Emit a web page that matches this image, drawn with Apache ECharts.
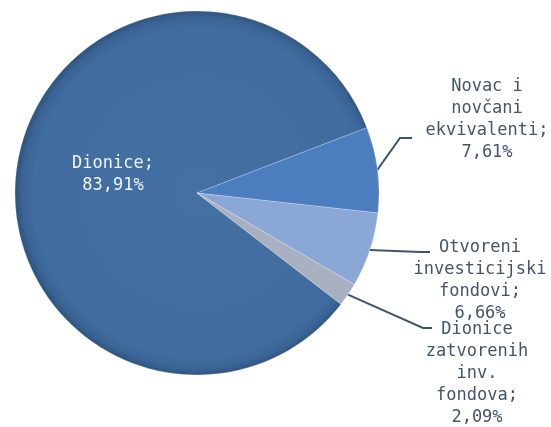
<!DOCTYPE html>
<html>
<head>
<meta charset="utf-8">
<script src="https://cdn.jsdelivr.net/npm/echarts@6/dist/echarts.min.js"></script>
<style>
  html, body { margin: 0; padding: 0; background: #fff; }
  #chart { width: 551px; height: 427px; }
</style>
</head>
<body>
<div id="chart"></div>
<script>
// portfolio structure, share in %
var categories = [
  "Dionice",
  "Novac i\nnovčani\nekvivalenti",
  "Otvoreni\ninvesticijski\nfondovi",
  "Dionice\nzatvorenih\ninv.\nfondova"
];
var shares = [83.91, 7.61, 6.66, 2.09];

var colors = ["#3f6a9c", "#4c7ebf", "#8ba7d5", "#a8b0c1"];

var chart = echarts.init(document.getElementById("chart"));

// where each outside label sits (centre of text block) and the bend of its line
var labelSpots = [
  null,
  { x: 487, y: 120, bend: [-87, 18], end: [-75, 18] },
  { x: 480, y: 281, bend: [-60, -29], end: [-50, -29] },
  { x: 477, y: 374, bend: [-54, -46], end: [-45, -46] }
];

chart.setOption({
  animation: false,
  series: [{
    type: "pie",
    center: [197, 193],
    radius: 182,
    startAngle: -37.7,
    clockwise: true,
    avoidLabelOverlap: false,
    data: categories.map(function (name, i) {
      return {
        name: name,
        value: shares[i],
        itemStyle: {
          color: i === 0 ? {
            type: "radial", x: 0.52, y: 0.5, r: 0.52,
            colorStops: [
              { offset: 0, color: "#4470a3" },
              { offset: 0.9, color: "#416c9f" },
              { offset: 0.96, color: "#3a6495" },
              { offset: 1, color: "#2d507c" }
            ]
          } : colors[i]
        },
        label: i === 0 ? { position: "inside", color: "#eef3fa" } : {},
        labelLine: { show: i !== 0 }
      };
    }),
    itemStyle: {
      borderColor: "rgba(255,255,255,0.35)",
      borderWidth: 0.6
    },
    label: {
      show: true,
      position: "outside",
      fontFamily: "DejaVu Sans Mono",
      fontSize: 17,
      lineHeight: 22,
      color: "#44546a",
      align: "center",
      formatter: function (p) {
        return p.name + ";\n" + p.value.toFixed(2).replace(".", ",") + "%";
      }
    },
    labelLine: {
      show: true,
      lineStyle: { color: "#3e5570", width: 2 }
    },
    labelLayout: function (params) {
      var s = labelSpots[params.dataIndex];
      if (!s) {
        return { x: 113, y: 175, align: "center", verticalAlign: "middle" };
      }
      var p0 = params.labelLinePoints ? params.labelLinePoints[0] : [0, 0];
      return {
        x: s.x,
        y: s.y,
        align: "center",
        verticalAlign: "middle",
        labelLinePoints: [
          p0,
          [s.x + s.bend[0], s.y + s.bend[1]],
          [s.x + s.end[0], s.y + s.end[1]]
        ]
      };
    }
  }]
});
</script>
</body>
</html>
